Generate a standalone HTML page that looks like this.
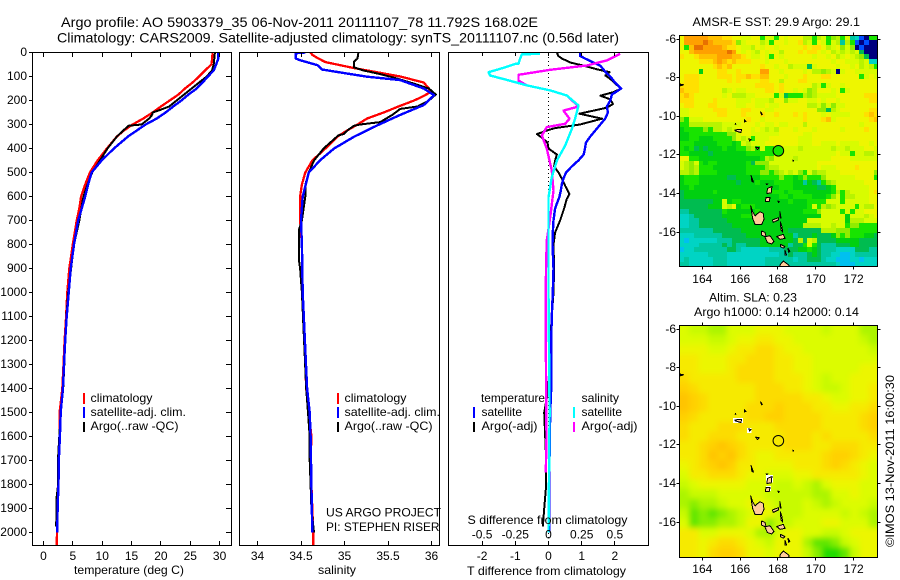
<!DOCTYPE html>
<html lang="en">
<head>
<meta charset="utf-8">
<title>Argo profile AO 5903379_35</title>
<style>
html,body{margin:0;padding:0;background:#fff;}
svg{display:block;}
text{font-family:"Liberation Sans",sans-serif;font-size:12px;fill:#000;}
.t14{font-size:14px;}
</style>
</head>
<body>
<svg id="chart" xmlns="http://www.w3.org/2000/svg" width="900" height="580" viewBox="0 0 900 580">
<defs>
<clipPath id="clip-t"><rect x="33" y="52" width="198" height="493"/></clipPath>
<clipPath id="clip-s"><rect x="240" y="52" width="199" height="493"/></clipPath>
<clipPath id="clip-d"><rect x="449" y="52" width="199" height="493"/></clipPath>
<clipPath id="clip-m1"><rect x="680" y="35" width="197" height="231"/></clipPath>
<clipPath id="clip-m2"><rect x="680" y="325" width="197" height="232"/></clipPath>
<filter id="sla-blur" x="-10%" y="-10%" width="120%" height="120%"><feGaussianBlur stdDeviation="3"/></filter>
</defs>
<rect x="0" y="0" width="900" height="580" fill="#fff"/>

<text class="t14" x="61" y="27" textLength="477" lengthAdjust="spacingAndGlyphs">Argo profile: AO 5903379_35 06-Nov-2011 20111107_78 11.792S 168.02E</text>
<text class="t14" x="57" y="42.5" textLength="562" lengthAdjust="spacingAndGlyphs">Climatology: CARS2009. Satellite-adjusted climatology: synTS_20111107.nc (0.56d later)</text>

<g id="panel-t"></g>
<g id="panel-s"></g>
<g id="panel-d"></g>
<g id="map-1"></g>
<g id="map-2"></g>

<text x="74" y="574" textLength="110" lengthAdjust="spacingAndGlyphs">temperature (deg C)</text>
<text x="318" y="574" textLength="38" lengthAdjust="spacingAndGlyphs">salinity</text>
<text x="467" y="575" textLength="159" lengthAdjust="spacingAndGlyphs">T difference from climatology</text>
<text x="467.5" y="524" textLength="160" lengthAdjust="spacingAndGlyphs">S difference from climatology</text>

<g>
<rect x="83" y="393" width="2" height="11" fill="#f00"/>
<rect x="83" y="407" width="2" height="11" fill="#00f"/>
<rect x="83" y="422" width="2" height="10" fill="#000"/>
<text x="90.5" y="402" textLength="62" lengthAdjust="spacingAndGlyphs">climatology</text>
<text x="90.5" y="416" textLength="95.5" lengthAdjust="spacingAndGlyphs">satellite-adj. clim.</text>
<text x="90.5" y="430" textLength="88" lengthAdjust="spacingAndGlyphs">Argo(..raw -QC)</text>
</g>
<g>
<rect x="337" y="393" width="2" height="11" fill="#f00"/>
<rect x="337" y="407" width="2" height="11" fill="#00f"/>
<rect x="337" y="422" width="2" height="10" fill="#000"/>
<text x="344.5" y="402" textLength="62" lengthAdjust="spacingAndGlyphs">climatology</text>
<text x="344.5" y="416" textLength="95.5" lengthAdjust="spacingAndGlyphs">satellite-adj. clim.</text>
<text x="344.5" y="430" textLength="88" lengthAdjust="spacingAndGlyphs">Argo(..raw -QC)</text>
<text x="326" y="516.5" textLength="115" lengthAdjust="spacingAndGlyphs">US ARGO PROJECT</text>
<text x="326" y="531" textLength="113.5" lengthAdjust="spacingAndGlyphs">PI: STEPHEN RISER</text>
</g>
<g>
<text x="481" y="402" textLength="64" lengthAdjust="spacingAndGlyphs">temperature</text>
<text x="581.5" y="402" textLength="37.5" lengthAdjust="spacingAndGlyphs">salinity</text>
<rect x="473" y="407" width="2" height="11" fill="#00f"/>
<rect x="473" y="422" width="2" height="10" fill="#000"/>
<rect x="573" y="407" width="2" height="11" fill="#0ff"/>
<rect x="573" y="422" width="2" height="10" fill="#f0f"/>
<text x="481.5" y="416" textLength="40.5" lengthAdjust="spacingAndGlyphs">satellite</text>
<text x="481.5" y="430" textLength="56" lengthAdjust="spacingAndGlyphs">Argo(-adj)</text>
<text x="581.5" y="416" textLength="40.5" lengthAdjust="spacingAndGlyphs">satellite</text>
<text x="581.5" y="430" textLength="56" lengthAdjust="spacingAndGlyphs">Argo(-adj)</text>
</g>

<text x="692.5" y="26" textLength="167.5" lengthAdjust="spacingAndGlyphs">AMSR-E SST: 29.9 Argo: 29.1</text>
<text x="709" y="301.5" textLength="88" lengthAdjust="spacingAndGlyphs">Altim. SLA: 0.23</text>
<text x="694" y="316" textLength="165" lengthAdjust="spacingAndGlyphs">Argo h1000: 0.14 h2000: 0.14</text>
<text transform="translate(894,547) rotate(-90)" x="0" y="0" textLength="172" lengthAdjust="spacingAndGlyphs">©IMOS 13-Nov-2011 16:00:30</text>
</svg>

<script>
// ---------- axis tick labels ----------
const depthTicks = [0,100,200,300,400,500,600,700,800,900,1000,1100,1200,1300,1400,1500,1600,1700,1800,1900,2000];
const tempTicks = [0,5,10,15,20,25,30];
const salTicks = [34,34.5,35,35.5,36];
const tDiffTicks = [-2,-1,0,1,2];
const sDiffTicks = [-0.5,-0.25,0,0.25,0.5];
const lonTicks = [164,166,168,170,172];
const latTicks = [-6,-8,-10,-12,-14,-16];

// ---------- temperature profiles ----------
const climTempDepth = [0,30,50,75,100,125,150,175,200,225,250,275,300,325,350,400,450,500,550,600,650,700,800,900,1000,1100,1200,1300,1400,1500,1600,1700,1800,1900,2000,2055];
const climTemp = [28.8,28.7,28.6,27.5,26.5,25.4,24.1,23.0,21.5,20.0,18.6,17.0,15.2,13.7,12.5,10.8,9.2,7.9,7.1,6.4,6.1,5.65,5.0,4.4,4.05,3.85,3.6,3.4,3.2,2.75,2.8,2.55,2.47,2.35,2.3,2.25];
const satTempDepth = [0,25,50,75,100,125,150,175,200,225,250,275,300,325,350,400,450,500,550,600,650,700,800,900,1000,1100,1200,1300,1400,1500,1600,1700,1800,1900,2000];
const satTemp = [29.8,29.8,29.4,29.0,28.0,27.1,26.1,24.7,23.5,22.1,20.8,19.3,17.4,15.9,14.4,12.0,9.9,8.2,7.6,7.1,6.5,5.9,5.2,4.63,4.3,3.95,3.7,3.5,3.3,2.93,2.8,2.6,2.55,2.4,2.35];
const argoTempDepth = [0,25,50,75,100,225,240,250,260,275,300,305,325,350,400,450,500,550,600,700,800,900,1000,1100,1200,1300,1400,1500,1600,1700,1800,1850,1900,1975];
const argoTemp = [29.2,29.1,29.0,28.7,27.8,21.4,19.8,18.6,18.5,18.0,16.7,14.5,13.6,12.5,10.9,9.6,8.3,7.5,6.8,6.1,5.2,4.7,4.2,3.9,3.7,3.55,3.35,2.95,2.7,2.45,2.5,2.25,2.25,2.15];

// ---------- salinity profiles ----------
const climSalDepth = [0,10,25,40,65,80,100,125,150,165,185,200,225,250,275,300,325,350,400,450,500,550,600,700,800,1000,1400,1500,1600,1700,1800,1900,2000,2055];
const climSal = [34.61,34.63,34.7,34.78,35.11,35.34,35.64,35.91,35.97,35.99,35.89,35.8,35.62,35.45,35.26,35.15,35.03,34.92,34.78,34.63,34.55,34.51,34.49,34.49,34.51,34.52,34.56,34.59,34.62,34.61,34.62,34.63,34.64,34.64];
const satSalDepth = [0,3,25,32,53,71,90,101,115,150,178,219,260,303,351,400,449,500,600,700,800,1000,1400,1500,1600,1800,2000];
const satSal = [34.55,34.44,34.44,34.49,34.69,34.74,35.07,35.26,35.64,35.91,36.03,35.91,35.64,35.38,35.11,34.88,34.72,34.59,34.52,34.5,34.51,34.52,34.57,34.6,34.61,34.62,34.63];
const argoSalDepth = [0,25,38,62,75,90,105,130,150,175,200,225,235,260,290,300,305,320,340,345,400,450,500,550,600,700,740,860,900,1000,1400,1500,1600,1700,1800,1900,2000];
const argoSal = [35.16,35.15,35.11,35.11,35.22,35.41,35.57,35.8,35.97,36.05,35.97,35.84,35.64,35.55,35.41,35.18,35.11,35.05,34.99,34.93,34.76,34.65,34.59,34.55,34.55,34.51,34.475,34.475,34.49,34.51,34.56,34.58,34.6,34.6,34.61,34.62,34.65];

// ---------- difference profiles ----------
const tSatDiffDepth = [0,14,25,42,55,80,100,125,150,175,200,225,250,275,300,325,350,375,400,425,450,475,500,525,550,575,600,650,700,750,800,900,1000,1100,1200,1400,1500,1700,2000];
const tSatDiff = [0.95,0.95,1.1,1.36,1.56,1.71,1.86,2.0,2.19,1.91,1.86,1.76,1.79,1.71,1.56,1.41,1.26,1.13,1.1,1.06,0.9,0.7,0.53,0.45,0.4,0.37,0.33,0.2,0.15,0.13,0.12,0.15,0.13,0.1,0.08,0.08,0.05,0.03,0.03];
const tArgoDiffDepth = [0,15,25,42,55,70,82,96,110,130,150,165,180,195,215,230,255,276,300,315,325,340,355,375,400,425,450,475,500,525,555,590,610,650,700,750,800,900,1000,1100,1200,1400,1500,1700,1800,1900,1975];
const tArgoDiff = [0.25,0.3,0.4,0.67,1.06,1.46,1.84,1.71,1.86,2.01,2.19,1.96,1.56,1.86,1.94,1.76,0.93,1.61,0.95,0.2,-0.05,-0.35,-0.2,-0.03,0,0.25,0.2,0.17,0.3,0.4,0.5,0.63,0.55,0.47,0.35,0.2,0.15,0.17,0.15,0.1,0.05,0,-0.13,-0.07,-0.07,-0.13,-0.17];
const sSatDiffDepth = [5,8,26,47,47.5,64,82,96,114,137,158,179,221,276,318,388,450,519,603,742,1000,1500,2000];
const sSatDiff = [-0.063,-0.2,-0.214,-0.226,-0.25,-0.34,-0.452,-0.44,-0.314,-0.163,0.013,0.138,0.226,0.2,0.176,0.126,0.063,0.025,0,0,0,0.008,0];
const sArgoDiffDepth = [5,33,54,72,93,117,137,158,179,225,242,276,297,311,346,401,492,575,686,783,881,985,1200,1600,1750];
const sArgoDiff = [0.54,0.44,0.289,0.013,-0.226,-0.226,-0.163,0.013,0.138,0.226,0.113,0.158,0.126,-0.013,-0.05,-0.013,0.025,0.038,0.013,-0.013,-0.018,-0.02,-0.02,-0.015,-0.02];

// ---------- SST map: one colour-bin digit per 0.25 degree cell ----------
const sstBins = [
"beeeeedddccbbaabb7aa7babbb9979a7897a431077",
"beeeefeddddc8abbb9a7bbabbc9a7ba7a949710100",
"b7dffeeeedccbaa9babbabbbbbcbccb9ab8a801000",
"bbdeeeeeeefebaba9babb9bbbcbccbab9a9a9a5000",
"cbbcddddeeeddcbaaba7babbbbbbabbab9aba98500",
"bbbbcccdedcdcccbbbabbbabbbbbbbbbabbaaa9a33",
"bbbbbbbcdcdbbbbbbcbbabb9aaa5abbbbabbab9a97",
"bbbb6bbbccbbcbbbbeebbabbbbab9989a0abbaaaaa",
"bcccbbbbcccbccdccddbbbabbbcbbbccbbbbbb7aba",
"bcccbbbbbbcbcbbbbccbb9bbbccbbbbbbbbbbbbbbb",
"ccccbbbbbbbbbbbbccccbcbbbbbb9a7abbabbbbbbb",
"dcccbbbbb9abaabbbbccbcbbaba89bbbab7abbbbbb",
"cdcbbbbbbab999aabbbb7a5777989aaaabbbbbbccc",
"cccbbbbcbbbbaaabaaa9bb8aabbaababbabbbbbbcc",
"bccbbbccbbbbaabbaabaabbbbbb99a8a8aabbbbbbb",
"aabbbbbcccbbbccbbbaabbbbbbbbb8859abbbbbbcc",
"aabbbbbbccbbbcbbbcbbcbbbcbcbbbabaaaabbbcdc",
"87aaabbbbbbbbbcbbabbbbbbbbcbbbcdabbbbbbbcd",
"779999999aaaabbbabaabaabbb9bbbbbbbbbbbabbb",
"677778799a9abbbaba9a9bbbabbbabbbbbabbbbcbb",
"667777777788abbaaaaaabbbbbaabbbbbbbbbbbbbb",
"667766677778a9a7aaabbbbbbaaabbbbbbbbbbbbbb",
"7776666677767a9aaabbbbbbbaaabbaaabaaaabbab",
"76756566676677897a77aaaaa9aaaaaa9aa9aaabba",
"77666656666666777777aaaaaaaaaaaaabaa7aa99a",
"bb776666666666666798aaaa9aaaaaaabbbbaaaaaa",
"a98a767766666675888aaaaaaaaaabbbbbbbbbbbbb",
"a98977766666667777899aaaaaaaabaaabbbbcbbbb",
"9989777766666677788789a9a87a899aaabbbbbbb8",
"6777666666556666677778776787778aaaaaabbbb7",
"677766666666566676667777664654789aaaaaabbb",
"667666666666666666666777666665567aaaaaaabb",
"566666676666666666677767776666667979aaaabc",
"566666666666666666666776777766678a799aaabb",
"555555566a677666666666676667777aaa7aaaaabb",
"555555666a9b6777666666666667a7989aaaa7a99b",
"445555555766666676666666667778aaaa7a7aabbb",
"334555555666677766666666666666aaaaa6aaa9ab",
"334455555566666666666666666aaaaaaaa6999aaa",
"334455555556666666666666669999aa9aa7887777",
"444444455555566666666665555555999888777777",
"333444444555556666666666455565556878777665",
"323333334445555556666666595a95555666665555",
"333344444545445556666664557a75444555665555",
"233444444455433333344455566765444333355544",
"333333444433333333333445444565443322344444",
"343333344433333333444444344555433222332333",
"443333344433333333444444444444444322233333"
];
// ---------- SLA map: one colour-bin digit per 0.5 degree cell ----------
const slaBins = [
"544335556665555455533",
"555445667766555555543",
"666556778876655555554",
"776667788877665555555",
"776667888877665555566",
"877777888877765455666",
"987777778887765445667",
"a98777778888877655667",
"a98777788898887766778",
"987777788998888777789",
"877788877788888777789",
"877888777778887877778",
"7789a9877778887788877",
"778a9a876677777899876",
"6789a9776666777898765",
"577888766555667777765",
"456666655544543566655",
"344455555444443355655",
"323345566544454345554",
"412123456644455554543",
"512233466244555665553",
"775566653356655445666",
"776788765466631124566",
"776899866566642001466"
];
const sstPalette = ["#00007f","#0050ff","#00c0f0","#00d4c4","#00c8a0","#00bc50","#00d010","#18e400","#90ec00","#b8f400","#d8fc00","#eef600","#ffe000","#ffc000","#ffa000","#e87000"];
const slaPalette = ["#20dc00","#60e600","#88ee00","#acf400","#c8fa00","#dcfc00","#ecf600","#f6ea00","#fcdc00","#ffd000","#ffc400"];

// ---------- coastlines, lon and degrees south ----------
const islands = [
 {name:"espiritu-santo",lon:[166.56,166.66,166.79,166.88,167.05,167.22,167.26,167.14,166.79,166.66],lat:[14.65,14.95,15.16,15.08,14.95,15.03,15.33,15.62,15.62,15.29]},
 {name:"malekula",lon:[167.14,167.31,167.37,167.58,167.79,167.67,167.44,167.31,167.14],lat:[15.95,16.02,16.24,16.19,16.5,16.62,16.55,16.24,16.16]},
 {name:"ambae",lon:[167.7,168.02,168.02,167.75],lat:[15.38,15.26,15.38,15.5]},
 {name:"maewo",lon:[168.1,168.16,168.12],lat:[14.95,15.28,15.28]},
 {name:"pentecost",lon:[168.12,168.2,168.25,168.16],lat:[15.47,15.7,16.0,15.9]},
 {name:"ambrym",lon:[167.93,168.28,168.37,168.11],lat:[16.24,16.12,16.33,16.38]},
 {name:"epi",lon:[168.14,168.37,168.28,168.14],lat:[16.64,16.76,16.84,16.76]},
 {name:"shepherd",lon:[168.37,168.46,168.38],lat:[16.95,17.2,17.2]},
 {name:"tongoa",lon:[168.53,168.63,168.56],lat:[16.85,17.0,17.05]},
 {name:"efate",lon:[168.11,168.28,168.55,168.6,168.4,168.1],lat:[17.7,17.5,17.7,17.76,18.0,18.0]},
 {name:"gaua",lon:[167.45,167.68,167.64,167.41],lat:[13.74,13.65,13.98,14.0]},
 {name:"vanua-lava",lon:[167.37,167.58,167.54,167.33],lat:[14.2,14.2,14.42,14.42]},
 {name:"nendo",lon:[165.73,166.08,166.04,165.73],lat:[10.71,10.68,10.85,10.75]},
 {name:"vanikoro",lon:[166.45,166.58,166.5],lat:[11.17,11.22,11.28]},
 {name:"utupua",lon:[166.22,166.32,166.22],lat:[10.18,10.27,10.3]},
 {name:"tinakula",lon:[165.75,165.77,165.74],lat:[10.38,10.41,10.43]},
 {name:"reef-north",lon:[167.07,167.17,167.14],lat:[9.77,9.9,9.93]},
 {name:"anuta",lon:[166.82,167.0,166.92],lat:[11.6,11.63,11.72]},
 {name:"torres",lon:[166.58,166.7,166.62],lat:[13.07,13.41,13.38]},
 {name:"banks-small",lon:[167.37,167.46,167.4],lat:[13.5,13.51,13.55]},
 {name:"west-reef",lon:[162.84,163.0,162.86],lat:[8.34,8.37,8.43]},
 {name:"east-reef",lon:[168.79,168.83,168.8],lat:[12.28,12.3,12.33]},
 {name:"merelava",lon:[168.0,168.07,168.03],lat:[14.4,14.42,14.47]}
];
const floatLon = [168.02];
const floatLat = [11.792];

// ---------- axis functions ----------
const NS = "http://www.w3.org/2000/svg";
const yDepth = d => 52.5 + d * 0.24;
const xTemp = t => 43.5 + t * 5.87;
const xSal = s => 257.5 + (s - 34) * 87;
const xTD = v => 548.5 + v * 33.2;
const xSD = v => 548.5 + v * 132.8;
const xLon = lon => 702.3 + (lon - 164) * 18.92;
const yLat1 = lat => 39 + (lat - 6) * 19.3;
const yLat2 = lat => 329 + (lat - 6) * 19.3;

function mk(tag, parent, attrs) {
  const el = document.createElementNS(NS, tag);
  for (const k in attrs) el.setAttribute(k, attrs[k]);
  parent.appendChild(el);
  return el;
}
function tickLine(parent, x1, y1, x2, y2) {
  const el = mk("line", parent, {x1:x1, y1:y1, x2:x2, y2:y2, stroke:"#000", "stroke-width":1, "shape-rendering":"crispEdges"});
  
  
  return el;
}
function tickText(parent, x, y, str, anchor) {
  const el = mk("text", parent, {x:x, y:y, "text-anchor":anchor});
  el.textContent = str;
  
  
  return el;
}
function frame(parent, x, y, w, h) {
  const el = mk("rect", parent, {x:x, y:y, width:w, height:h, fill:"none", stroke:"#000", "stroke-width":1, "shape-rendering":"crispEdges"});
  
  
  return el;
}
function profile(parent, clip, depths, values, xFn, color, name, width) {
  const g = mk("g", parent, {"clip-path":"url(#" + clip + ")"});
  
  
  const pts = depths.map((d, i) => xFn(values[i]).toFixed(1) + "," + yDepth(d).toFixed(1)).join(" ");
  const el = mk("polyline", g, {points:pts, fill:"none", stroke:color, "stroke-width":width, "stroke-linejoin":"round", "shape-rendering":"crispEdges"});
  
  
}

// ---------- temperature panel ----------
const pT = document.getElementById("panel-t");
profile(pT, "clip-t", climTempDepth, climTemp, xTemp, "#f00", "temperature-climatology-line", 2.3);
profile(pT, "clip-t", argoTempDepth, argoTemp, xTemp, "#000", "temperature-argo-line", 2);
profile(pT, "clip-t", satTempDepth, satTemp, xTemp, "#00f", "temperature-satellite-line", 2.4);
frame(pT, 32.5, 52.5, 199, 493);
depthTicks.forEach(d => {
  const y = Math.floor(yDepth(d)) + 0.5;
  tickLine(pT, 29, y, 32, y);
  tickLine(pT, 226, y, 231, y);
  tickText(pT, 27, y + 3.7, String(d), "end");
});
tempTicks.forEach(t => {
  const x = Math.floor(xTemp(t)) + 0.5;
  tickLine(pT, x, 53, x, 57);
  tickLine(pT, x, 541, x, 545);
  tickText(pT, xTemp(t), 560, String(t), "middle");
});

// ---------- salinity panel ----------
const pS = document.getElementById("panel-s");
profile(pS, "clip-s", climSalDepth, climSal, xSal, "#f00", "salinity-climatology-line", 2.3);
profile(pS, "clip-s", argoSalDepth, argoSal, xSal, "#000", "salinity-argo-line", 2);
profile(pS, "clip-s", satSalDepth, satSal, xSal, "#00f", "salinity-satellite-line", 2.4);
frame(pS, 239.5, 52.5, 200, 493);
salTicks.forEach(s => {
  const x = Math.floor(xSal(s)) + 0.5;
  tickLine(pS, x, 53, x, 57);
  tickLine(pS, x, 541, x, 545);
  tickText(pS, xSal(s), 560, String(s), "middle");
});

// ---------- difference panel ----------
const pD = document.getElementById("panel-d");
const zero = mk("line", pD, {x1:548.5, y1:53, x2:548.5, y2:545, stroke:"#000", "stroke-width":1, "stroke-dasharray":"1 3", "shape-rendering":"crispEdges"});


profile(pD, "clip-d", tArgoDiffDepth, tArgoDiff, xTD, "#000", "t-difference-argo-line", 2);
profile(pD, "clip-d", tSatDiffDepth, tSatDiff, xTD, "#00f", "t-difference-satellite-line", 2.4);
profile(pD, "clip-d", sArgoDiffDepth, sArgoDiff, xSD, "#f0f", "s-difference-argo-line", 2.4);
profile(pD, "clip-d", sSatDiffDepth, sSatDiff, xSD, "#0ff", "s-difference-satellite-line", 2.4);
frame(pD, 448.5, 52.5, 200, 493);
tDiffTicks.forEach(v => {
  const x = Math.floor(xTD(v)) + 0.5;
  tickLine(pD, x, 53, x, 56);
  tickLine(pD, x, 541, x, 545);
  tickText(pD, xTD(v), 560, String(v), "middle");
});
sDiffTicks.forEach(v => {
  tickText(pD, xSD(v), 538.5, String(v), "middle");
});

// ---------- maps ----------
function drawIslands(parent, yFn) {
  islands.forEach(isl => {
    const pts = isl.lon.map((lon, i) => xLon(lon).toFixed(1) + "," + yFn(isl.lat[i]).toFixed(1)).join(" ");
    const el = mk("polygon", parent, {points:pts, fill:"#ffcc99", stroke:"#000", "stroke-width":1, "stroke-linejoin":"round", "shape-rendering":"crispEdges"});
    
    
  });
}
function mapAxes(parent, bx, by, bw, bh, yFn, labelY) {
  frame(parent, bx, by, bw, bh);
  lonTicks.forEach(lon => {
    const x = Math.floor(xLon(lon)) + 0.5;
    tickLine(parent, x, by - 3, x, by);
    tickLine(parent, x, by + bh, x, by + bh + 3);
    tickText(parent, xLon(lon), labelY, String(lon), "middle");
  });
  latTicks.forEach(lat => {
    const y = Math.floor(yFn(-lat)) + 0.5;
    tickLine(parent, bx - 3, y, bx, y);
    tickLine(parent, bx + bw, y, bx + bw + 3, y);
    tickText(parent, 676, y + 3.5, String(lat), "end");
  });
}

// SST map
const m1 = document.getElementById("map-1");
const m1Clip = mk("g", m1, {"clip-path":"url(#clip-m1)"});


const m1Bg = mk("rect", m1Clip, {x:679, y:35, width:199, height:232, fill:"#e8f800"});


sstBins.forEach((row, r) => {
  for (let c = 0; c < row.length; c++) {
    const x0 = Math.round(xLon(162.8 + c * 0.25));
    const x1 = Math.round(xLon(162.8 + (c + 1) * 0.25));
    const y0 = Math.round(yLat1(5.8 + r * 0.25));
    const y1 = Math.round(yLat1(5.8 + (r + 1) * 0.25));
    const cell = mk("rect", m1Clip, {x:x0, y:y0, width:x1 - x0, height:y1 - y0, fill:sstPalette[parseInt(row[c], 16)], "shape-rendering":"crispEdges"});
    
    
  }
});
drawIslands(m1Clip, yLat1);
const c1 = mk("circle", m1Clip, {cx:xLon(floatLon[0]), cy:yLat1(floatLat[0]), r:5.3, fill:"#18e400", stroke:"#000", "stroke-width":1});


mapAxes(m1, 679.5, 35.5, 198, 231, yLat1, 283);

// SLA map
const m2 = document.getElementById("map-2");
const m2Clip = mk("g", m2, {"clip-path":"url(#clip-m2)"});


const m2Blur = mk("g", m2Clip, {filter:"url(#sla-blur)"});


slaBins.forEach((row, r) => {
  for (let c = 0; c < row.length; c++) {
    let x0 = xLon(162.8 + c * 0.5);
    let x1 = xLon(162.8 + (c + 1) * 0.5);
    let y0 = yLat2(5.8 + r * 0.5);
    let y1 = yLat2(5.8 + (r + 1) * 0.5);
    if (c === 0) x0 -= 12;
    if (c === row.length - 1) x1 += 12;
    if (r === 0) y0 -= 12;
    if (r === slaBins.length - 1) y1 += 12;
    const cell = mk("rect", m2Blur, {x:x0, y:y0, width:x1 - x0 + 0.5, height:y1 - y0 + 0.5, fill:slaPalette[parseInt(row[c], 16)]});
    
    
  }
});
const maskLon = [165.62, 166.36, 167.37, 167.37];
const maskLat = [10.61, 11.13, 13.56, 14.14];
const maskLonSpan = [0.53, 0.25, 0.37, 0.26];
const maskLatSpan = [0.26, 0.27, 0.4, 0.26];
maskLon.forEach((lon, i) => {
  const box = mk("rect", m2Clip, {x:xLon(lon), y:yLat2(maskLat[i]), width:maskLonSpan[i] * 18.92, height:maskLatSpan[i] * 19.3, fill:"#fff", "shape-rendering":"crispEdges"});
  
  
});
drawIslands(m2Clip, yLat2);
const c2 = mk("circle", m2Clip, {cx:xLon(floatLon[0]), cy:yLat2(floatLat[0]), r:5.3, fill:"none", stroke:"#000", "stroke-width":1});


mapAxes(m2, 679.5, 325.5, 198, 232, yLat2, 573);
</script>
</body>
</html>
